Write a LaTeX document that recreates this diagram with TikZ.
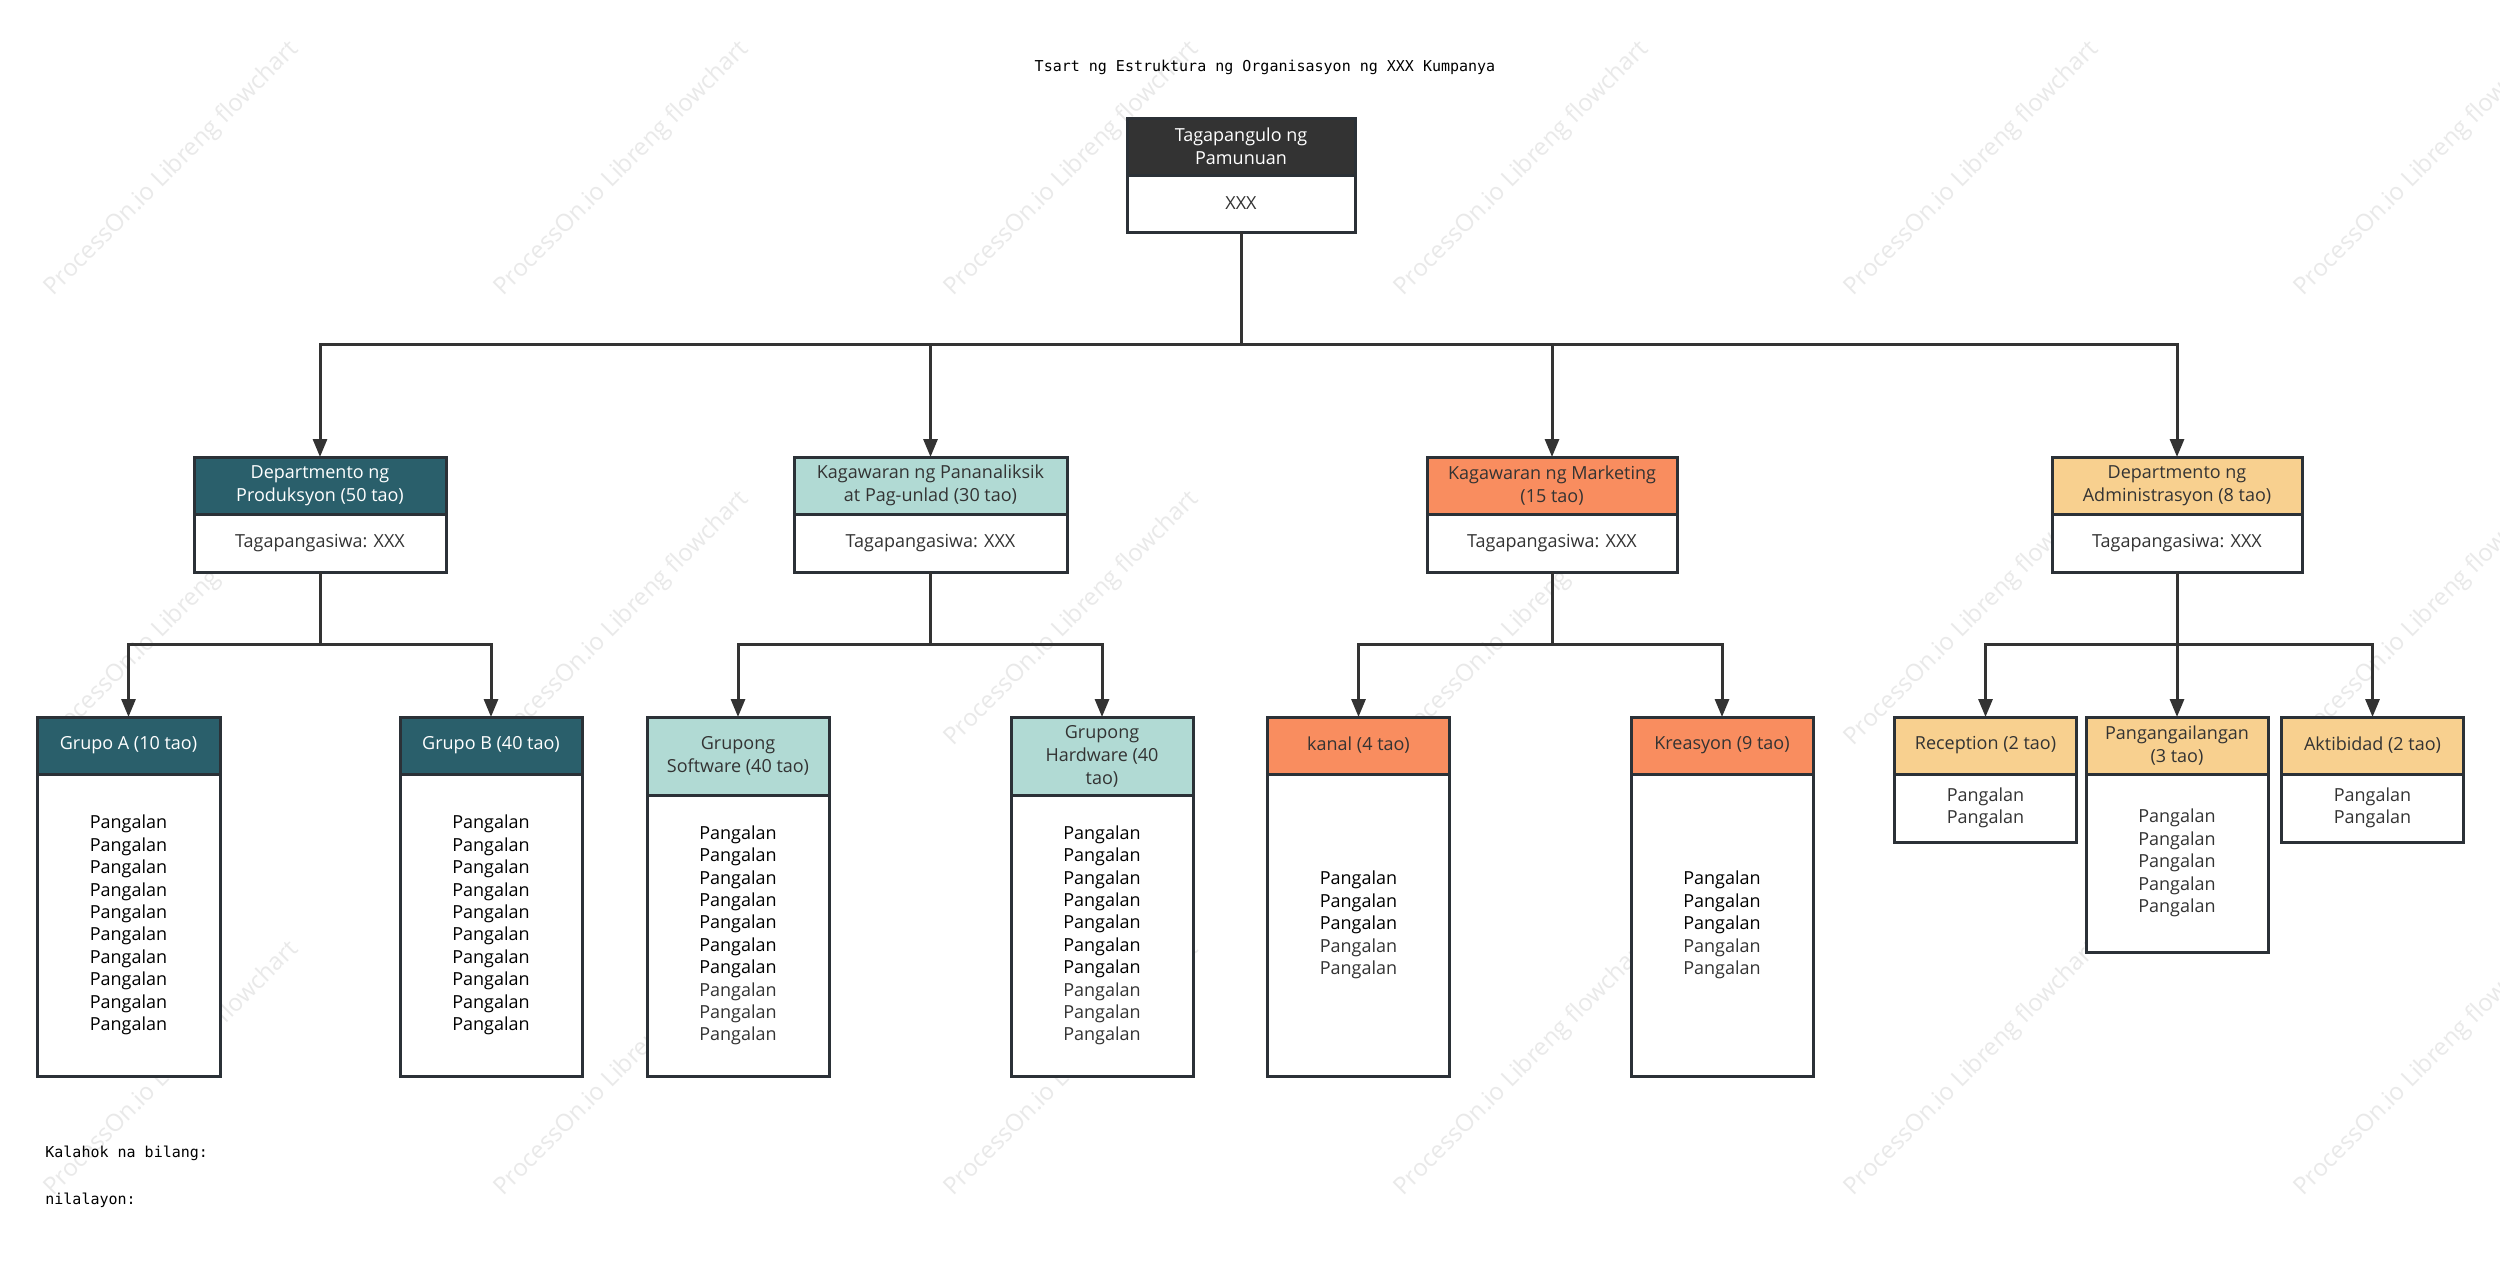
\documentclass[tikz,border=0pt]{standalone}
\usepackage{fontspec}
\usetikzlibrary{arrows.meta}
\newfontfamily\boxfont{Open Sans}
\newfontfamily\monofont{DejaVu Sans Mono}
\definecolor{bordc}{HTML}{2B3137}
\definecolor{linec}{HTML}{333333}
\definecolor{txtc}{HTML}{333333}
\definecolor{topc}{HTML}{333333}
\definecolor{prodc}{HTML}{2A5F6B}
\definecolor{rndc}{HTML}{B1DAD4}
\definecolor{mktc}{HTML}{F98D5F}
\definecolor{admc}{HTML}{F8D08F}
\definecolor{wmc}{HTML}{E9E9E9}
\newcommand{\gp}{\textcolor{txtc}{Pangalan}}
\tikzset{
  hdr/.style={draw=bordc, line width=1.5pt, inner sep=0pt, outer sep=0pt, align=center,
    font={\boxfont\fontsize{9}{11.5}\selectfont}, text=txtc, anchor=north},
  bodybox/.style={draw=bordc, line width=1.5pt, fill=white, inner sep=0pt, outer sep=0pt, align=center,
    font={\boxfont\fontsize{9}{11.2}\selectfont}, text=black, anchor=north},
  conn/.style={draw=linec, line width=1.5pt},
  arr/.style={conn, -{Triangle[length=9pt,width=7pt]}},
  wm/.style={rotate=45, text=wmc, font={\boxfont\fontsize{12}{14}\selectfont}},
  mono/.style={font={\monofont\fontsize{7.5}{9}\selectfont}, text=black, inner sep=0pt}
}
\begin{document}
\begin{tikzpicture}[x=0.5pt,y=-0.5pt]
\useasboundingbox (0,0) rectangle (2500,1271);
\fill[white] (0,0) rectangle (2500,1271);
% watermarks
\foreach \wx in {172,622,1072,1522,1972,2422}{
  \foreach \wy in {169,619,1069}{
    \node[wm] (wm-\wx-\wy) at (\wx,\wy) {ProcessOn.io Libreng flowchart};
  }
}
% title
\node[mono] (title) at (1265,67) {Tsart ng Estruktura ng Organisasyon ng XXX Kumpanya};
% top
\node[hdr, fill=topc, text=white, minimum width=114pt, minimum height=28.5pt] (topH) at (1241,118) {Tagapangulo ng\\Pamunuan};
\node[bodybox, text=txtc, minimum width=114pt, minimum height=28.5pt] (topB) at (topH.south) {XXX};
% level 1
\node[hdr, fill=prodc, text=white, minimum width=126pt, minimum height=28.5pt] (prodH) at (320,457) {Departmento ng\\Produksyon (50 tao)};
\node[bodybox, text=txtc, minimum width=126pt, minimum height=29pt] (prodB) at (prodH.south) {Tagapangasiwa: XXX};
\node[hdr, fill=rndc, minimum width=136.5pt, minimum height=28.5pt] (rndH) at (930.5,457) {Kagawaran ng Pananaliksik\\at Pag-unlad (30 tao)};
\node[bodybox, text=txtc, minimum width=136.5pt, minimum height=29pt] (rndB) at (rndH.south) {Tagapangasiwa: XXX};
\node[hdr, fill=mktc, minimum width=125pt, minimum height=28.5pt] (mktH) at (1552,457) {Kagawaran ng Marketing\\(15 tao)};
\node[bodybox, text=txtc, minimum width=125pt, minimum height=29pt] (mktB) at (mktH.south) {Tagapangasiwa: XXX};
\node[hdr, fill=admc, minimum width=125pt, minimum height=28.5pt] (admH) at (2177,457) {Departmento ng\\Administrasyon (8 tao)};
\node[bodybox, text=txtc, minimum width=125pt, minimum height=29pt] (admB) at (admH.south) {Tagapangasiwa: XXX};
% level 2 production
\node[hdr, fill=prodc, text=white, minimum width=91.5pt, minimum height=28.5pt] (gaH) at (128.5,717) {Grupo A (10 tao)};
\node[bodybox, minimum width=91.5pt, minimum height=151pt] (gaB) at (gaH.south) {Pangalan\\Pangalan\\Pangalan\\Pangalan\\Pangalan\\Pangalan\\Pangalan\\Pangalan\\Pangalan\\Pangalan};
\node[hdr, fill=prodc, text=white, minimum width=91pt, minimum height=28.5pt] (gbH) at (491,717) {Grupo B (40 tao)};
\node[bodybox, minimum width=91pt, minimum height=151pt] (gbB) at (gbH.south) {Pangalan\\Pangalan\\Pangalan\\Pangalan\\Pangalan\\Pangalan\\Pangalan\\Pangalan\\Pangalan\\Pangalan};
% level 2 R&D
\node[hdr, fill=rndc, minimum width=91pt, minimum height=39pt] (swH) at (738,717) {Grupong\\Software (40 tao)};
\node[bodybox, minimum width=91pt, minimum height=140.5pt] (swB) at (swH.south) {Pangalan\\Pangalan\\Pangalan\\Pangalan\\Pangalan\\Pangalan\\Pangalan\\\gp\\\gp\\\gp};
\node[hdr, fill=rndc, minimum width=91pt, minimum height=39pt] (hwH) at (1102,717) {Grupong\\Hardware (40\\tao)};
\node[bodybox, minimum width=91pt, minimum height=140.5pt] (hwB) at (hwH.south) {Pangalan\\Pangalan\\Pangalan\\Pangalan\\Pangalan\\Pangalan\\Pangalan\\\gp\\\gp\\\gp};
% level 2 marketing
\node[hdr, fill=mktc, minimum width=91pt, minimum height=28.5pt] (knH) at (1358.5,717) {kanal (4 tao)};
\node[bodybox, minimum width=91pt, minimum height=151pt] (knB) at (knH.south) {Pangalan\\Pangalan\\Pangalan\\\gp\\\gp};
\node[hdr, fill=mktc, minimum width=91pt, minimum height=28.5pt] (krH) at (1722,717) {Kreasyon (9 tao)};
\node[bodybox, minimum width=91pt, minimum height=151pt] (krB) at (krH.south) {Pangalan\\Pangalan\\Pangalan\\\gp\\\gp};
% level 2 admin
\node[hdr, fill=admc, minimum width=91pt, minimum height=28.5pt] (rcH) at (1985.5,717) {Reception (2 tao)};
\node[bodybox, text=txtc, minimum width=91pt, minimum height=34pt] (rcB) at (rcH.south) {Pangalan\\Pangalan};
\node[hdr, fill=admc, minimum width=91pt, minimum height=28.5pt] (pgH) at (2177,717) {Pangangailangan\\(3 tao)};
\node[bodybox, text=txtc, minimum width=91pt, minimum height=89pt] (pgB) at (pgH.south) {Pangalan\\Pangalan\\Pangalan\\Pangalan\\Pangalan};
\node[hdr, fill=admc, minimum width=91pt, minimum height=28.5pt] (akH) at (2372.5,717) {Aktibidad (2 tao)};
\node[bodybox, text=txtc, minimum width=91pt, minimum height=34pt] (akB) at (akH.south) {Pangalan\\Pangalan};
% connectors level 1
\coordinate (bus0) at (1241,344);
\foreach \c in {prodH,rndH,mktH,admH}{
  \draw[arr] (topB.south) -- (bus0) -| (\c.north);
}
% connectors level 2
\coordinate (busP) at (320,644);
\coordinate (busR) at (930.5,644);
\coordinate (busM) at (1552,644);
\coordinate (busA) at (2177,644);
\foreach \c in {gaH,gbH}{ \draw[arr] (prodB.south) -- (busP) -| (\c.north); }
\foreach \c in {swH,hwH}{ \draw[arr] (rndB.south) -- (busR) -| (\c.north); }
\foreach \c in {knH,krH}{ \draw[arr] (mktB.south) -- (busM) -| (\c.north); }
\foreach \c in {rcH,pgH,akH}{ \draw[arr] (admB.south) -- (busA) -| (\c.north); }
% footer texts
\node[mono, anchor=west] (kal) at (45,1153) {Kalahok na bilang:};
\node[mono, anchor=west] (nil) at (45,1200) {nilalayon:};
\end{tikzpicture}
\end{document}
